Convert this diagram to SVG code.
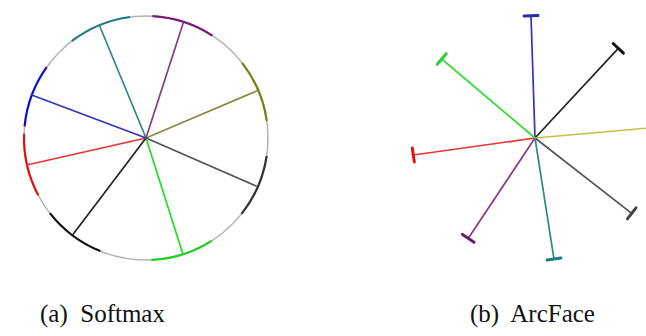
<svg xmlns="http://www.w3.org/2000/svg" width="646" height="336" viewBox="0 0 646 336">
<style>
.sp{fill:none;stroke-width:1.7;stroke-linecap:round}
.arc{fill:none;stroke-width:2.2}
.cap{fill:none;stroke-width:3;stroke-linecap:round}
.lbl{font-family:"Liberation Serif","Times New Roman",serif;font-size:25px;fill:#111}
</style>
<rect width="646" height="336" fill="#fff"/>
<g id="softmax">
<circle cx="146" cy="138" r="122" fill="none" stroke="#b4b4b4" stroke-width="1.5"/>
<path class="arc" stroke="#1f8080" d="M71.7 41.2 A122 122 0 0 1 130.1 17"/>
<path class="arc" stroke="#7a1a7a" d="M152.4 16.2 A122 122 0 0 1 212.4 35.7"/>
<path class="arc" stroke="#7d7d10" d="M242.1 62.9 A122 122 0 0 1 266.8 121"/>
<path class="arc" stroke="#333" d="M266.7 156 A122 122 0 0 1 241.5 213.9"/>
<path class="arc" stroke="#22cc22" d="M211.6 240.9 A122 122 0 0 1 151.3 259.9"/>
<path class="arc" stroke="#111" d="M100.3 251.1 A122 122 0 0 1 49.9 213.1"/>
<path class="arc" stroke="#e01010" d="M38.3 195.3 A122 122 0 0 1 24.1 133.7"/>
<path class="arc" stroke="#1010cc" d="M24.6 126.3 A122 122 0 0 1 46.7 67.2"/>
</g>
<g id="connectors">
<g id="softmax-spokes">
<line class="sp" stroke="#2a8a8a" x1="146" y1="138" x2="100" y2="26.7"/>
<line class="sp" stroke="#8a3a8a" x1="146" y1="138" x2="183.3" y2="22.7"/>
<line class="sp" stroke="#8a8a40" x1="146" y1="138" x2="257.3" y2="90.7"/>
<line class="sp" stroke="#555" x1="146" y1="138" x2="256" y2="186"/>
<line class="sp" stroke="#22dd22" x1="146" y1="138" x2="182.7" y2="253.3"/>
<line class="sp" stroke="#222" x1="146" y1="138" x2="73.3" y2="234"/>
<line class="sp" stroke="#ee3333" x1="146" y1="138" x2="26.7" y2="165"/>
<line class="sp" stroke="#3333bb" x1="146" y1="138" x2="31.7" y2="95"/>
</g>
<g id="arcface-spokes">
<line class="sp" stroke="#3333bb" x1="535" y1="138" x2="531" y2="15.7"/>
<line class="sp" stroke="#222" x1="535" y1="138" x2="618.3" y2="48.3"/>
<line class="sp" stroke="#c2c24a" x1="535" y1="138" x2="650" y2="127.9"/>
<line class="sp" stroke="#555" x1="535" y1="138" x2="631.7" y2="213.3"/>
<line class="sp" stroke="#2a8a8a" x1="535" y1="138" x2="554" y2="259"/>
<line class="sp" stroke="#8a3a8a" x1="535" y1="138" x2="468.3" y2="238.3"/>
<line class="sp" stroke="#ee3333" x1="535" y1="138" x2="413.3" y2="155"/>
<line class="sp" stroke="#33dd33" x1="535" y1="138" x2="441.7" y2="59"/>
</g>
</g>
<g id="arcface-caps">
<line class="cap" stroke="#2a2aaa" x1="538" y1="15.5" x2="524" y2="15.9"/>
<line class="cap" stroke="#111" x1="623.4" y1="53.1" x2="613.2" y2="43.5"/>
<line class="cap" stroke="#444" x1="627.4" y1="218.8" x2="636" y2="207.8"/>
<line class="cap" stroke="#1f7f7f" x1="547.1" y1="260.1" x2="560.9" y2="257.9"/>
<line class="cap" stroke="#6a1a6a" x1="474.1" y1="242.2" x2="462.5" y2="234.4"/>
<line class="cap" stroke="#dd1111" x1="414.3" y1="161.9" x2="412.3" y2="148.1"/>
<line class="cap" stroke="#33cc33" x1="446.2" y1="53.7" x2="437.2" y2="64.3"/>
</g>
<g id="labels">
<text class="lbl" x="40" y="322" xml:space="preserve">(a)  Softmax</text>
<text class="lbl" x="470" y="322" xml:space="preserve">(b)  ArcFace</text>
</g>
</svg>
